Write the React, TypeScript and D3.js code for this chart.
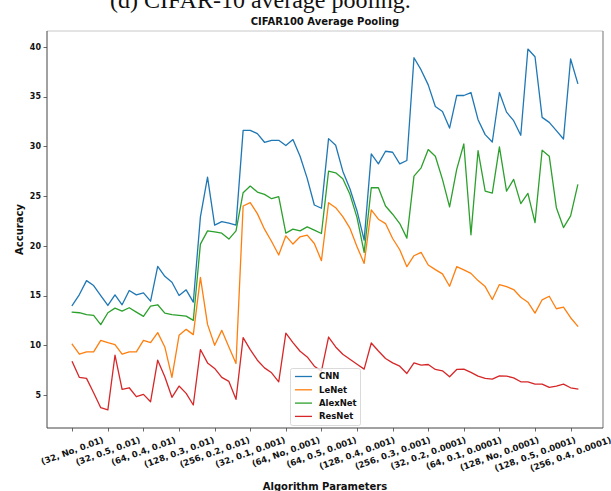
import React, { useEffect, useRef } from "react";
import * as d3 from "d3";

// Accuracy per hyper-parameter configuration (72 runs, ordered lr > batch > dropout)
const cnn = [
  14.0, 15.1, 16.5, 16.0, 15.0, 14.0, 15.07, 14.07, 15.5, 15.07, 15.27, 14.43,
  17.93, 16.93, 16.33, 15.0, 15.57, 14.33, 22.9, 26.9, 22.07, 22.43, 22.27, 22.07,
  31.6, 31.6, 31.27, 30.4, 30.6, 30.6, 30.07, 30.67, 29.0, 26.77, 24.1, 23.77,
  30.77, 30.1, 27.5, 25.73, 23.5, 20.57, 29.23, 28.23, 29.5, 29.4, 28.23, 28.57,
  38.9, 37.67, 36.17, 34.0, 33.5, 31.83, 35.1, 35.1, 35.4, 32.67, 31.17, 30.43,
  35.4, 33.43, 32.57, 31.1, 39.77, 39.0, 32.9, 32.4, 31.57, 30.73, 38.77, 36.33,
];
const lenet = [
  10.1, 9.1, 9.33, 9.33, 10.5, 10.27, 10.07, 9.1, 9.33, 9.33, 10.5, 10.27,
  11.27, 9.83, 6.77, 11.0, 11.6, 11.07, 16.83, 12.1, 10.0, 11.5, 9.83, 8.17,
  24.0, 24.33, 23.23, 21.67, 20.43, 19.07, 21.0, 20.17, 20.9, 21.07, 20.23, 18.5,
  24.33, 23.83, 22.93, 21.77, 19.9, 18.23, 23.6, 22.67, 22.23, 20.73, 19.6, 17.9,
  19.0, 19.33, 18.07, 17.6, 17.17, 15.93, 17.9, 17.57, 17.23, 16.5, 15.9, 14.6,
  16.1, 15.9, 15.6, 14.83, 14.33, 13.23, 14.57, 14.93, 13.67, 13.83, 12.77, 11.93,
];
const alexnet = [
  13.33, 13.27, 13.07, 13.0, 12.07, 13.27, 13.73, 13.43, 13.77, 13.33, 12.9, 13.93,
  14.07, 13.23, 13.07, 13.0, 12.93, 12.5, 20.17, 21.5, 21.4, 21.27, 20.67, 21.5,
  25.33, 26.0, 25.4, 25.17, 24.73, 24.93, 21.27, 21.67, 21.5, 21.9, 21.57, 21.23,
  27.5, 27.33, 26.73, 25.17, 22.83, 19.33, 25.83, 25.83, 24.0, 23.17, 22.23, 20.77,
  27.0, 27.83, 29.67, 29.0, 26.67, 23.9, 27.67, 30.23, 21.1, 29.57, 25.5, 25.3,
  29.93, 25.5, 26.67, 24.23, 25.27, 22.33, 29.6, 29.0, 23.83, 21.83, 23.0, 26.1,
];
const resnet = [
  8.33, 6.77, 6.67, 5.23, 3.73, 3.5, 9.0, 5.57, 5.73, 4.83, 5.07, 4.33,
  8.5, 6.83, 4.77, 5.9, 5.17, 4.0, 9.57, 8.23, 7.67, 6.77, 6.37, 4.57,
  10.77, 9.57, 8.5, 7.73, 7.23, 6.33, 11.23, 10.27, 9.4, 8.83, 7.9, 7.4,
  10.83, 9.83, 9.1, 8.6, 8.1, 7.6, 10.23, 9.43, 8.67, 8.23, 7.9, 7.17,
  8.23, 8.0, 8.07, 7.57, 7.43, 6.83, 7.57, 7.6, 7.27, 6.9, 6.67, 6.6,
  6.93, 6.9, 6.73, 6.33, 6.33, 6.1, 6.1, 5.77, 5.9, 6.1, 5.73, 5.6,
];

const seriesNames = ["CNN", "LeNet", "AlexNet", "ResNet"];
const seriesColors = ["#1f77b4", "#ff7f0e", "#2ca02c", "#d62728"];

// Every fifth configuration is labelled on the x axis
const tickIndices = [0, 5, 10, 15, 20, 25, 30, 35, 40, 45, 50, 55, 60, 65, 70];
const tickLabels = [
  "(32, No, 0.01)",
  "(32, 0.5, 0.01)",
  "(64, 0.4, 0.01)",
  "(128, 0.3, 0.01)",
  "(256, 0.2, 0.01)",
  "(32, 0.1, 0.001)",
  "(64, No, 0.001)",
  "(64, 0.5, 0.001)",
  "(128, 0.4, 0.001)",
  "(256, 0.3, 0.001)",
  "(32, 0.2, 0.0001)",
  "(64, 0.1, 0.0001)",
  "(128, No, 0.0001)",
  "(128, 0.5, 0.0001)",
  "(256, 0.4, 0.0001)",
];
const yTicks = [5, 10, 15, 20, 25, 30, 35, 40];

const W = 611;
const H = 491;
const plot = { left: 47, right: 603, top: 31, bottom: 428 };
const FONT = "'DejaVu Sans', sans-serif";

export default function App() {
  const ref = useRef<SVGSVGElement | null>(null);

  useEffect(() => {
    const svg = d3.select(ref.current);
    svg.selectAll("*").remove();

    const all = [cnn, lenet, alexnet, resnet];
    const n = cnn.length;
    const xPad = 0.05 * (n - 1);
    const x = d3
      .scaleLinear()
      .domain([-xPad, n - 1 + xPad])
      .range([plot.left, plot.right]);
    const lo = d3.min(all.flat()) as number;
    const hi = d3.max(all.flat()) as number;
    const yPad = 0.05 * (hi - lo);
    const y = d3
      .scaleLinear()
      .domain([lo - yPad, hi + yPad])
      .range([plot.bottom, plot.top]);

    // caption above the figure
    svg
      .append("text")
      .attr("x", 110)
      .attr("y", 8)
      .attr("font-family", "'Liberation Serif', serif")
      .attr("font-size", 24)
      .attr("fill", "#111")
      .text("(d) CIFAR-10 average pooling.");

    // title
    svg
      .append("text")
      .attr("x", (plot.left + plot.right) / 2)
      .attr("y", 25)
      .attr("text-anchor", "middle")
      .attr("font-family", FONT)
      .attr("font-weight", "bold")
      .attr("font-size", 10)
      .attr("fill", "#111")
      .text("CIFAR100 Average Pooling");

    // series
    const line = d3
      .line<number>()
      .x((_, i) => x(i))
      .y((d) => y(d));
    all.forEach((s, k) => {
      svg
        .append("path")
        .attr("d", line(s))
        .attr("fill", "none")
        .attr("stroke", seriesColors[k])
        .attr("stroke-width", 1.3)
        .attr("stroke-linejoin", "round")
        .attr("stroke-linecap", "square");
    });

    // spines
    const sp = svg.append("g").attr("fill", "none");
    sp.append("line")
      .attr("x1", plot.left).attr("x2", plot.right)
      .attr("y1", plot.top).attr("y2", plot.top)
      .attr("stroke", "#c8c8c8").attr("stroke-width", 1);
    sp.append("line")
      .attr("x1", plot.right).attr("x2", plot.right)
      .attr("y1", plot.top).attr("y2", plot.bottom)
      .attr("stroke", "#8a8a8a").attr("stroke-width", 1.2);
    sp.append("line")
      .attr("x1", plot.left).attr("x2", plot.left)
      .attr("y1", plot.top).attr("y2", plot.bottom)
      .attr("stroke", "#444").attr("stroke-width", 1);
    sp.append("line")
      .attr("x1", plot.left).attr("x2", plot.right)
      .attr("y1", plot.bottom).attr("y2", plot.bottom)
      .attr("stroke", "#444").attr("stroke-width", 1);

    // y axis
    const ya = svg.append("g");
    yTicks.forEach((t) => {
      const yy = Math.round(y(t)) + 0.5;
      ya.append("line")
        .attr("x1", plot.left - 3.5).attr("x2", plot.left)
        .attr("y1", yy).attr("y2", yy)
        .attr("stroke", "#444").attr("stroke-width", 0.8);
      ya.append("text")
        .attr("x", plot.left - 6)
        .attr("y", y(t))
        .attr("dy", "0.35em")
        .attr("text-anchor", "end")
        .attr("font-family", FONT)
        .attr("font-weight", "bold")
        .attr("font-size", 8)
        .attr("fill", "#111")
        .text(String(t));
    });
    svg
      .append("text")
      .attr("transform", `translate(19,${(plot.top + plot.bottom) / 2}) rotate(-90)`)
      .attr("text-anchor", "middle")
      .attr("dy", "0.35em")
      .attr("font-family", FONT)
      .attr("font-weight", "bold")
      .attr("font-size", 10)
      .attr("fill", "#111")
      .text("Accuracy");

    // x axis with slanted labels centred under each tick
    const xa = svg.append("g");
    const rot = (20 * Math.PI) / 180;
    const fs = 8.5;
    tickIndices.forEach((idx, k) => {
      const xx = Math.round(x(idx)) + 0.5;
      xa.append("line")
        .attr("x1", xx).attr("x2", xx)
        .attr("y1", plot.bottom).attr("y2", plot.bottom + 3.5)
        .attr("stroke", "#444").attr("stroke-width", 0.8);
      const t = xa
        .append("text")
        .attr("text-anchor", "middle")
        .attr("dominant-baseline", "central")
        .attr("font-family", FONT)
        .attr("font-weight", "bold")
        .attr("font-size", fs)
        .attr("fill", "#111")
        .text(tickLabels[k]);
      const w = (t.node() as SVGTextElement).getComputedTextLength();
      const h = fs * 1.1;
      const rh = w * Math.sin(rot) + h * Math.cos(rot);
      const cy = plot.bottom + 7 + rh / 2;
      t.attr("transform", `translate(${x(idx)},${cy}) rotate(-20)`);
    });
    svg
      .append("text")
      .attr("x", (plot.left + plot.right) / 2)
      .attr("y", 490)
      .attr("text-anchor", "middle")
      .attr("font-family", FONT)
      .attr("font-weight", "bold")
      .attr("font-size", 10)
      .attr("fill", "#111")
      .text("Algorithm Parameters");

    // legend
    const lg = svg.append("g").attr("transform", "translate(290,368)");
    lg.append("rect")
      .attr("x", 0.5).attr("y", 0.5)
      .attr("width", 70).attr("height", 57)
      .attr("rx", 2)
      .attr("fill", "white").attr("fill-opacity", 0.8)
      .attr("stroke", "#d0d0d0").attr("stroke-width", 0.8);
    seriesNames.forEach((name, k) => {
      const ly = 8.5 + k * 13.3;
      lg.append("line")
        .attr("x1", 5).attr("x2", 22)
        .attr("y1", ly).attr("y2", ly)
        .attr("stroke", seriesColors[k]).attr("stroke-width", 1.3);
      lg.append("text")
        .attr("x", 29)
        .attr("y", ly)
        .attr("dy", "0.35em")
        .attr("font-family", FONT)
        .attr("font-weight", "bold")
        .attr("font-size", 8.5)
        .attr("fill", "#111")
        .text(name);
    });
  }, []);

  return (
    <svg
      ref={ref}
      width={W}
      height={H}
      style={{ position: "absolute", left: 0, top: 0, background: "white" }}
    />
  );
}
